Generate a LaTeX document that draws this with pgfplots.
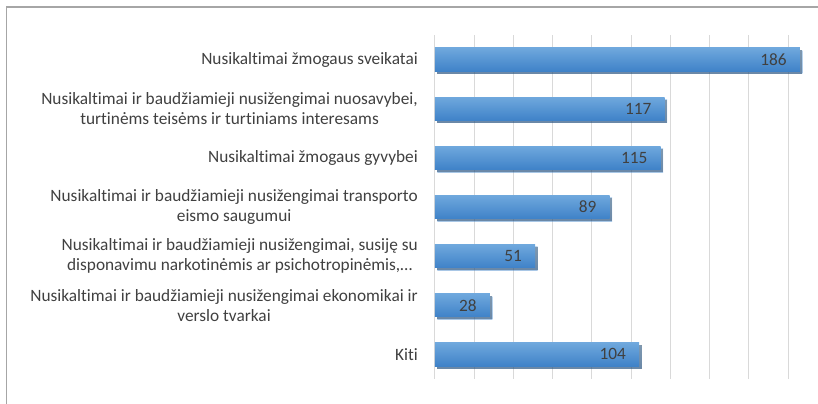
\documentclass[border=0pt]{standalone}
\usepackage{fontspec}
\setmainfont[Ligatures={NoCommon}]{Carlito}
\usepackage{pgfplots}
\pgfplotsset{compat=1.18}
\usetikzlibrary{shadows}
\definecolor{bartop}{HTML}{6FA8DD}
\definecolor{barbot}{HTML}{3F82C8}
\definecolor{txt}{HTML}{404040}
\definecolor{gridc}{HTML}{D9D9D9}
\definecolor{framec}{HTML}{A6A6A6}
\pgfplotsset{barsty/.style={draw=none, top color=bartop, bottom color=barbot,
  drop shadow={shadow xshift=2.5bp, shadow yshift=-2.5bp, opacity=0.45, fill=black}}}
\begin{document}
\begin{tikzpicture}
\path[use as bounding box] (-435bp,-25bp) rectangle (383bp,379bp);
\draw[framec, line width=1.5bp] (-428.5bp,-30bp) -- (-428.5bp,372bp) -- (390bp,372bp);
\begin{axis}[
  at={(0,0)}, anchor=south west,
  scale only axis,
  width=383bp, height=344bp,
  xmin=0, xmax=195.2,
  ymin=-0.5, ymax=6.5,
  y dir=reverse,
  xbar, bar width=23.3bp, bar shift=0pt,
  axis line style={draw=none},
  major tick length=0pt,
  xtick={0,20,...,180},
  xticklabels={},
  xmajorgrids,
  grid style={gridc, line width=1bp},
  ytick={0,1,2,3,4,5,6},
  yticklabels={
    {Nusikaltimai žmogaus sveikatai},
    {Nusikaltimai ir baudžiamieji nusižengimai nuosavybei,\\[1.5bp]turtinėms teisėms ir turtiniams interesams},
    {Nusikaltimai žmogaus gyvybei},
    {Nusikaltimai ir baudžiamieji nusižengimai transporto\\[1.5bp]eismo saugumui},
    {Nusikaltimai ir baudžiamieji nusižengimai, susiję su\\[1.5bp]disponavimu narkotinėmis ar psichotropinėmis,…},
    {Nusikaltimai ir baudžiamieji nusižengimai ekonomikai ir\\[1.5bp]verslo tvarkai},
    {Kiti}},
  yticklabel style={align=center, inner xsep=0pt, xshift=-17bp, text=txt,
    font=\fontsize{17.3bp}{18.5bp}\selectfont},
  /pgf/number format/assume math mode=true,
  nodes near coords,
  every node near coord/.append style={anchor=east, inner xsep=0pt, xshift=-13bp,
    text=txt, font=\fontsize{17.3bp}{20bp}\selectfont},
]
\addplot[barsty] coordinates {(186,0)};
\addplot[barsty] coordinates {(117,1)};
\addplot[barsty] coordinates {(115,2)};
\addplot[barsty] coordinates {(89,3)};
\addplot[barsty] coordinates {(51,4)};
\addplot[barsty] coordinates {(28,5)};
\addplot[barsty] coordinates {(104,6)};
\end{axis}
\end{tikzpicture}
\end{document}
